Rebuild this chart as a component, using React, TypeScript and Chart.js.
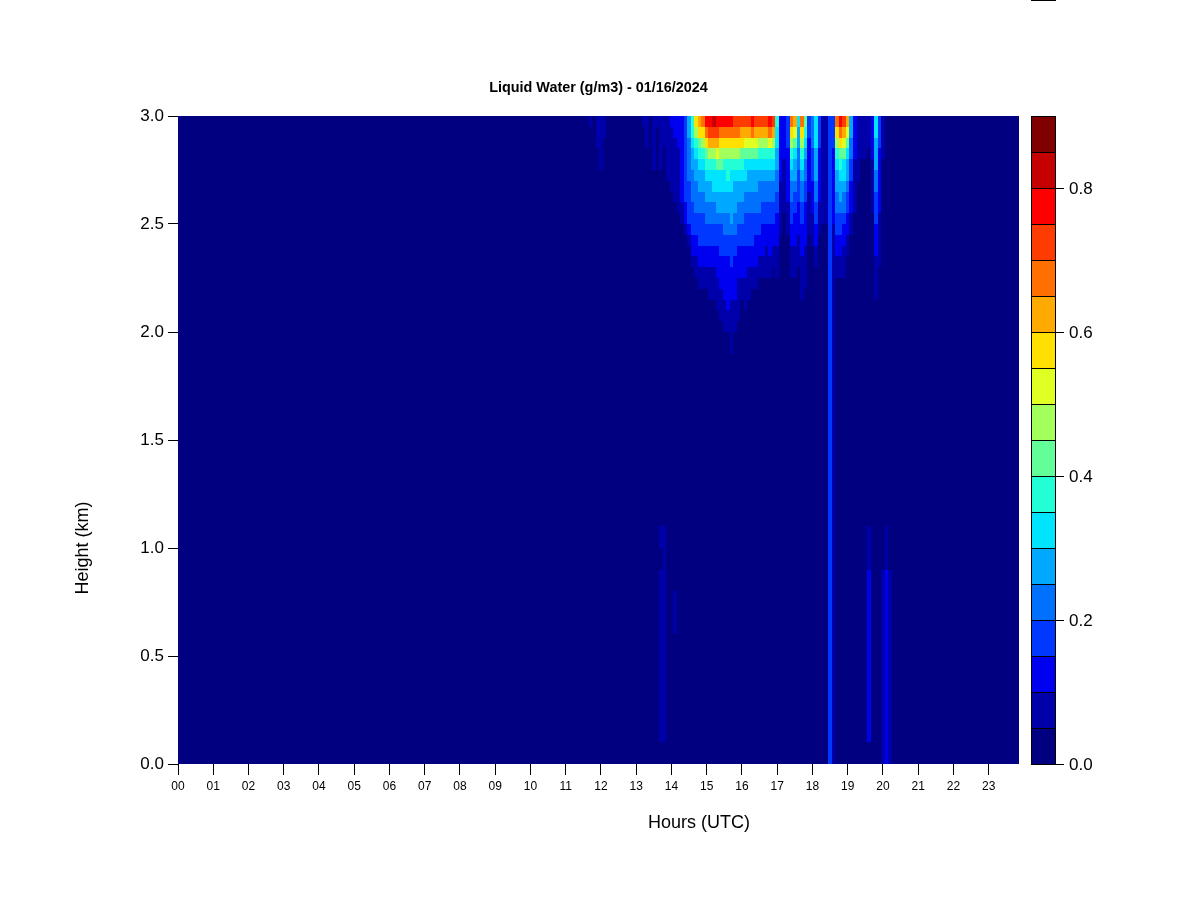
import React, { useEffect, useRef } from "react";
import { Chart, registerables } from "chart.js";

Chart.register(...registerables);

const FONT = '"Liberation Sans", Arial, Helvetica, sans-serif';

// ---- texts ----
const chartTitle = "Liquid Water (g/m3) - 01/16/2024";
const xAxisTitle = "Hours (UTC)";
const yAxisTitle = "Height (km)";

// ---- axes ----
const hourTicks = [0, 1, 2, 3, 4, 5, 6, 7, 8, 9, 10, 11, 12, 13, 14, 15, 16, 17, 18, 19, 20, 21, 22, 23];
const hourLabels = ["00", "01", "02", "03", "04", "05", "06", "07", "08", "09", "10", "11", "12", "13", "14", "15", "16", "17", "18", "19", "20", "21", "22", "23"];
const hourMin = 0;
const hourMax = 23.86;
const heightTicks = [0, 0.5, 1.0, 1.5, 2.0, 2.5, 3.0];
const heightMin = 0;
const heightMax = 3.0;

// ---- colour key ----
const levelStep = 0.05; // g/m3 per colour band
const colorbarMax = 0.9;
const colorbarTicks = [0.0, 0.2, 0.4, 0.6, 0.8];
const levelColors = [
  "#000080", "#0000AA", "#0000F0", "#0038FF", "#0070FF", "#00A8FF",
  "#00E4FF", "#22FFD6", "#62FF98", "#A2FF5C", "#E0FF22", "#FFE000",
  "#FFAA00", "#FF7000", "#FF3C00", "#FF0000", "#C40000", "#800000",
];

// ---- data grid ----
// time columns: start hour of first column and column width (hours)
const colStartHour = 11.45;
const colStepHour = 0.1;
// upper profile rows (top -> down), edges in km
const upperEdges = [3.0, 2.95, 2.9, 2.85, 2.8, 2.75, 2.7, 2.65, 2.6, 2.55, 2.5, 2.45, 2.4, 2.35, 2.3, 2.25, 2.2, 2.15, 2.1, 2.05, 2.0];
// lower profile rows (top -> down), edges in km
const lowerEdges = [2.0, 1.9, 1.8, 1.7, 1.6, 1.5, 1.4, 1.3, 1.2, 1.1, 1.0, 0.9, 0.8, 0.7, 0.6, 0.5, 0.4, 0.3, 0.2, 0.1, 0.0];

// Each string: one time column, one character per height row (level code 0-h, band of 0.05 g/m3)
const profilesUpper = [
  "00000000000000000000", // 11.5
  "00000000000000000000",
  "10000000000000000000",
  "00000000000000000000",
  "11100000000000000000",
  "11111000000000000000", // 12.0
  "11000000000000000000",
  "00000000000000000000",
  "00000000000000000000",
  "00000000000000000000",
  "00000000000000000000", // 12.5
  "00000000000000000000",
  "00000000000000000000",
  "00000000000000000000",
  "00000000000000000000",
  "00000000000000000000", // 13.0
  "00000000000000000000",
  "10000000000000000000",
  "11100000000000000000",
  "00000000000000000000",
  "11111000000000000000", // 13.5
  "10000000000000000000",
  "11111000000000000000",
  "11100000000000000000",
  "11111100000000000000",
  "21111110000000000000", // 14.0
  "22111111000000000000",
  "22211111100000000000",
  "22222222110000000000",
  "33333333221000000000",
  "55444433332100000000", // 14.5
  "77655444333221000000",
  "b9765544433221100000",
  "cb876554433322110000",
  "db976554433322110000",
  "fdb87655443322110000", // 15.0
  "fec97655443322111000",
  "gec97665443322111000",
  "feca8665543322211100",
  "fdb98665543332221110",
  "fdb97665544332222111", // 15.5
  "fdb97765544332222211",
  "fdb97665554333222111",
  "edb97655544332222111",
  "edb97655443322211110",
  "ecb87655443322211000", // 16.0
  "eca86654433322211100",
  "eca86554433322111000",
  "fda86554433322110000",
  "eca86554433222110000",
  "ec976544433221100000", // 16.5
  "ec976544332221100000",
  "ec976544332211100000",
  "fda76544332221100000",
  "ec976544332211000000",
  "76655443322211100000", // 17.0
  "22222211111000000000",
  "22221111100000000000",
  "33322222111000000000",
  "db976544332211100000",
  "ca865543322211100000", // 17.5
  "65544333222111000000",
  "db976544332221111000",
  "87654433222211110000",
  "33222221111000000000",
  "44433322211100000000", // 18.0
  "66655544332211000000",
  "33322222111000000000",
  "11111111110000000000",
  "11111111110000000000",
  "33333333333333333333", // 18.5
  "33322222221111111111",
  "db976554433221100000",
  "fdb87655433221100000",
  "eca86654432211100000",
  "ca865543322110000000", // 19.0
  "55443322211000000000",
  "22221111100000000000",
  "11111100000000000000",
  "11110000000000000000",
  "11110000000000000000", // 19.5
  "11100000000000000000",
  "22221111100000000000",
  "66555443332221111000",
  "33322222211111000000",
  "11110000000000000000", // 20.0
  "00000000000000000000",
  "00000000000000000000",
  "00000000000000000000",
  "00000000000000000000",
];

const profilesLower = [
  "00000000000000000000", // 11.5
  "00000000000000000000",
  "00000000000000000000",
  "00000000000000000000",
  "00000000000000000000",
  "00000000000000000000", // 12.0
  "00000000000000000000",
  "00000000000000000000",
  "00000000000000000000",
  "00000000000000000000",
  "00000000000000000000", // 12.5
  "00000000000000000000",
  "00000000000000000000",
  "00000000000000000000",
  "00000000000000000000",
  "00000000000000000000", // 13.0
  "00000000000000000000",
  "00000000000000000000",
  "00000000000000000000",
  "00000000000000000000",
  "00000000000000000000", // 13.5
  "00000000000000000000",
  "00000000010111111110",
  "00000000011111111110",
  "00000000000000000000",
  "00000000000000000000", // 14.0
  "00000000000011000000",
  "00000000000000000000",
  "00000000000000000000",
  "00000000000000000000",
  "00000000000000000000", // 14.5
  "00000000000000000000",
  "00000000000000000000",
  "00000000000000000000",
  "00000000000000000000",
  "00000000000000000000", // 15.0
  "00000000000000000000",
  "00000000000000000000",
  "00000000000000000000",
  "00000000000000000000",
  "00000000000000000000", // 15.5
  "00000000000000000000",
  "10000000000000000000",
  "00000000000000000000",
  "00000000000000000000",
  "00000000000000000000", // 16.0
  "00000000000000000000",
  "00000000000000000000",
  "00000000000000000000",
  "00000000000000000000",
  "00000000000000000000", // 16.5
  "00000000000000000000",
  "00000000000000000000",
  "00000000000000000000",
  "00000000000000000000",
  "00000000000000000000", // 17.0
  "00000000000000000000",
  "00000000000000000000",
  "00000000000000000000",
  "00000000000000000000",
  "00000000000000000000", // 17.5
  "00000000000000000000",
  "00000000000000000000",
  "00000000000000000000",
  "00000000000000000000",
  "00000000000000000000", // 18.0
  "00000000000000000000",
  "00000000000000000000",
  "00000000000000000000",
  "00000000000000000000",
  "33333333333333333333", // 18.5
  "11111111111111111111",
  "00000000000000000000",
  "00000000000000000000",
  "00000000000000000000",
  "00000000000000000000", // 19.0
  "00000000000000000000",
  "00000000000000000000",
  "00000000000000000000",
  "00000000000000000000",
  "00000000000000000000", // 19.5
  "00000000011222222220",
  "00000000000000000000",
  "00000000000000000000",
  "00000000000000000000",
  "00000000000111111111", // 20.0
  "00000000011222222222",
  "00000000000111111111",
  "00000000000000000000",
  "00000000000000000000",
];

function colorFor(value: number): string {
  const idx = Math.max(0, Math.min(levelColors.length - 1, Math.floor(value / levelStep + 1e-9)));
  return levelColors[idx];
}

function codeToValue(ch: string): number {
  const lvl = parseInt(ch, 36);
  if (isNaN(lvl)) return 0;
  return (lvl + 0.5) * levelStep;
}

const heatmapPlugin = {
  id: "lwcHeatmap",
  beforeDatasetsDraw(chart: any) {
    const { ctx } = chart;
    const xs = chart.scales.x;
    const ys = chart.scales.y;
    ctx.save();
    // zero liquid water over the whole observed period
    const bx0 = Math.round(xs.getPixelForValue(hourMin));
    const bx1 = Math.round(xs.getPixelForValue(hourMax));
    const by0 = Math.round(ys.getPixelForValue(heightMax));
    const by1 = Math.round(ys.getPixelForValue(heightMin));
    ctx.fillStyle = colorFor(0);
    ctx.fillRect(bx0, by0, bx1 - bx0, by1 - by0);

    const drawSet = (profiles: string[], edges: number[]) => {
      profiles.forEach((prof, c) => {
        const t0 = colStartHour + c * colStepHour;
        const x0 = Math.round(xs.getPixelForValue(t0));
        const x1 = Math.round(xs.getPixelForValue(t0 + colStepHour));
        for (let r = 0; r < edges.length - 1; r++) {
          const v = codeToValue(prof[r] ?? "0");
          const y0 = Math.round(ys.getPixelForValue(edges[r]));
          const y1 = Math.round(ys.getPixelForValue(edges[r + 1]));
          ctx.fillStyle = colorFor(v);
          ctx.fillRect(x0, y0, x1 - x0, y1 - y0);
        }
      });
    };
    drawSet(profilesUpper, upperEdges);
    drawSet(profilesLower, lowerEdges);
    ctx.restore();
  },
};

const decorPlugin = {
  id: "lwcDecor",
  afterDraw(chart: any) {
    const { ctx, chartArea } = chart;
    const ys = chart.scales.y;
    ctx.save();

    // colour key
    const cbLeft = chartArea.right + 12;
    const cbWidth = 24;
    const vToPix = (v: number) => ys.getPixelForValue(heightMin + (heightMax - heightMin) * (v / colorbarMax));
    ctx.lineWidth = 1;
    ctx.strokeStyle = "#000";
    levelColors.forEach((col, i) => {
      const yTop = Math.round(vToPix((i + 1) * levelStep));
      const yBot = Math.round(vToPix(i * levelStep));
      ctx.fillStyle = col;
      ctx.fillRect(cbLeft, yTop, cbWidth, yBot - yTop);
      ctx.strokeRect(cbLeft + 0.5, yTop + 0.5, cbWidth, yBot - yTop);
    });
    ctx.fillStyle = "#000";
    ctx.font = `17px ${FONT}`;
    ctx.textAlign = "left";
    ctx.textBaseline = "middle";
    colorbarTicks.forEach((v) => {
      const py = Math.round(vToPix(v)) + 0.5;
      ctx.beginPath();
      ctx.moveTo(cbLeft + cbWidth, py);
      ctx.lineTo(cbLeft + cbWidth + 9, py);
      ctx.stroke();
      ctx.fillText(v.toFixed(1), cbLeft + cbWidth + 14, py + 1);
    });
    // small top stroke seen at the key's top edge of the page
    ctx.fillRect(cbLeft, 0, cbWidth + 1, 1);

    // titles
    ctx.textAlign = "center";
    ctx.font = `bold 14.4px ${FONT}`;
    ctx.fillText(chartTitle, (chartArea.left + chartArea.right) / 2, chartArea.top - 28);

    ctx.font = `18px ${FONT}`;
    ctx.fillText(xAxisTitle, chartArea.left + 521, chartArea.bottom + 59);

    ctx.translate(chartArea.left - 95, chartArea.bottom - 216);
    ctx.rotate(-Math.PI / 2);
    ctx.fillText(yAxisTitle, 0, 0);
    ctx.restore();
  },
};

export default function App() {
  const ref = useRef<HTMLCanvasElement | null>(null);
  useEffect(() => {
    const canvas = ref.current;
    if (!canvas) return;
    const chart = new Chart(canvas, {
      type: "scatter",
      data: { datasets: [] },
      options: {
        responsive: false,
        animation: false,
        devicePixelRatio: 1,
        layout: { padding: { top: 116, right: 181, bottom: 0, left: 0 } },
        plugins: {
          legend: { display: false },
          tooltip: { enabled: false },
          title: { display: false },
        },
        scales: {
          x: {
            type: "linear",
            min: hourMin,
            max: hourMax,
            afterBuildTicks: (s: any) => {
              s.ticks = hourTicks.map((v) => ({ value: v }));
            },
            afterFit: (s: any) => {
              s.height = 136;
            },
            ticks: {
              autoSkip: false,
              maxRotation: 0,
              minRotation: 0,
              padding: 4,
              color: "#000",
              font: { family: FONT, size: 12 },
              callback: (_v: any, i: number) => hourLabels[i],
            },
            grid: {
              display: true,
              drawOnChartArea: false,
              drawTicks: true,
              tickLength: 11,
              color: "#000",
              lineWidth: 1,
            },
            border: { display: false },
          },
          y: {
            type: "linear",
            min: heightMin,
            max: heightMax,
            afterBuildTicks: (s: any) => {
              s.ticks = heightTicks.map((v) => ({ value: v }));
            },
            afterFit: (s: any) => {
              s.width = 178;
            },
            ticks: {
              padding: 4,
              color: "#000",
              font: { family: FONT, size: 17 },
              callback: (v: any) => Number(v).toFixed(1),
            },
            grid: {
              display: true,
              drawOnChartArea: false,
              drawTicks: true,
              tickLength: 10,
              color: "#000",
              lineWidth: 1,
            },
            border: { display: false },
          },
        },
      },
      plugins: [heatmapPlugin, decorPlugin],
    } as any);
    return () => chart.destroy();
  }, []);
  return (
    <div style={{ position: "fixed", left: 0, top: 0, width: 1200, height: 900, background: "#fff" }}>
      <canvas ref={ref} width={1200} height={900} style={{ display: "block", width: 1200, height: 900 }} />
    </div>
  );
}
